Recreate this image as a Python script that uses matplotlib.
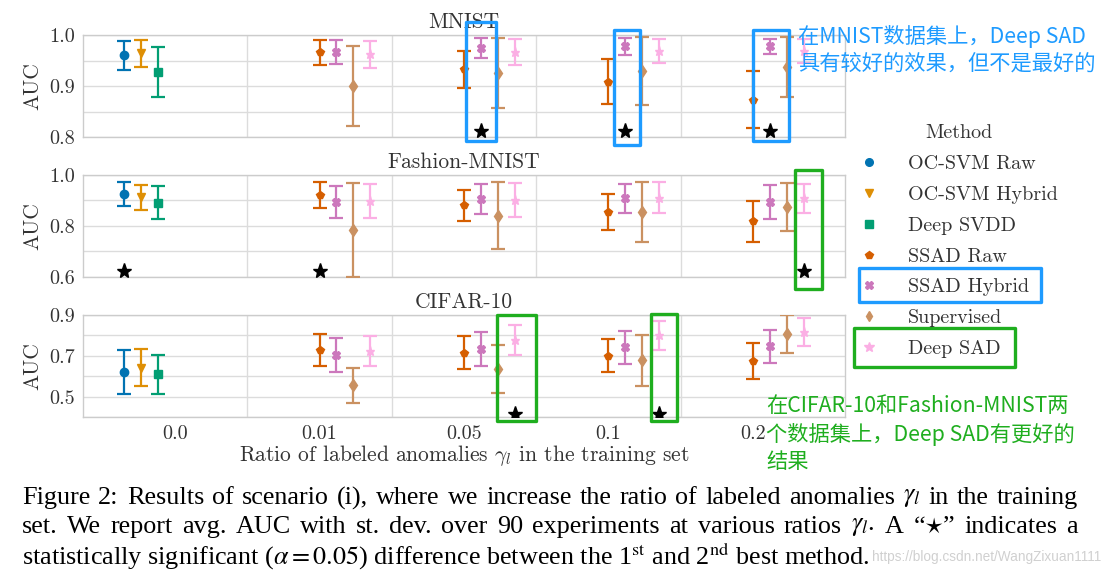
import matplotlib
matplotlib.use("Agg")
import matplotlib.pyplot as plt
import numpy as np
from matplotlib.lines import Line2D
from matplotlib.patches import Rectangle
from matplotlib.ticker import FormatStrFormatter, MultipleLocator

plt.rcParams["font.family"] = "serif"
plt.rcParams["font.serif"] = ["cmr10"]
plt.rcParams["mathtext.fontset"] = "cm"
plt.rcParams["axes.formatter.use_mathtext"] = True

nan = np.nan

ratios = ["0.0", "0.01", "0.05", "0.1", "0.2"]
methods = ["OC-SVM Raw", "OC-SVM Hybrid", "Deep SVDD", "SSAD Raw",
           "SSAD Hybrid", "Supervised", "Deep SAD"]
colors = ["#0173b2", "#de8f05", "#029e73", "#d55e00", "#cc78bc", "#ca9161", "#fbafe4"]
markers = ["o", "v", "s", "p", "X", "d", "*"]

# rows = methods, columns = ratios
mnist_mean = [
    [0.960, nan, nan, nan, nan],
    [0.964, nan, nan, nan, nan],
    [0.928, nan, nan, nan, nan],
    [nan, 0.966, 0.933, 0.908, 0.873],
    [nan, 0.967, 0.974, 0.978, 0.978],
    [nan, 0.900, 0.925, 0.930, 0.938],
    [nan, 0.962, 0.967, 0.969, 0.969],
]
mnist_std = [
    [0.029, nan, nan, nan, nan],
    [0.026, nan, nan, nan, nan],
    [0.049, nan, nan, nan, nan],
    [nan, 0.024, 0.036, 0.044, 0.056],
    [nan, 0.024, 0.020, 0.017, 0.015],
    [nan, 0.079, 0.069, 0.067, 0.059],
    [nan, 0.027, 0.025, 0.023, 0.023],
]
fashion_mean = [
    [0.927, nan, nan, nan, nan],
    [0.912, nan, nan, nan, nan],
    [0.891, nan, nan, nan, nan],
    [nan, 0.922, 0.881, 0.855, 0.818],
    [nan, 0.893, 0.905, 0.908, 0.894],
    [nan, 0.784, 0.841, 0.854, 0.875],
    [nan, 0.898, 0.902, 0.911, 0.908],
]
fashion_std = [
    [0.047, nan, nan, nan, nan],
    [0.049, nan, nan, nan, nan],
    [0.064, nan, nan, nan, nan],
    [nan, 0.052, 0.061, 0.071, 0.080],
    [nan, 0.062, 0.058, 0.057, 0.067],
    [nan, 0.184, 0.130, 0.117, 0.095],
    [nan, 0.065, 0.066, 0.061, 0.056],
]
cifar_mean = [
    [0.620, nan, nan, nan, nan],
    [0.641, nan, nan, nan, nan],
    [0.609, nan, nan, nan, nan],
    [nan, 0.729, 0.714, 0.701, 0.675],
    [nan, 0.704, 0.733, 0.743, 0.746],
    [nan, 0.555, 0.635, 0.677, 0.806],
    [nan, 0.722, 0.777, 0.800, 0.816],
]
cifar_std = [
    [0.106, nan, nan, nan, nan],
    [0.090, nan, nan, nan, nan],
    [0.094, nan, nan, nan, nan],
    [nan, 0.080, 0.081, 0.081, 0.088],
    [nan, 0.083, 0.084, 0.081, 0.080],
    [nan, 0.087, 0.116, 0.126, 0.094],
    [nan, 0.074, 0.074, 0.071, 0.069],
]

# significance stars: (ratio index, method index)
mnist_stars = [(2, 4), (3, 4), (4, 4)]
fashion_stars = [(0, 0), (1, 3), (4, 6)]
cifar_stars = [(2, 6), (3, 6)]
star_levels = [0.812, 0.625, 0.416]

titles = ["MNIST", "Fashion-MNIST", "CIFAR-10"]
ylims = [(0.8, 1.0), (0.6, 1.0), (0.4, 0.9)]
ymajor = [0.1, 0.2, 0.2]
ystart = [0.8, 0.6, 0.5]

BLUE = "#1e9bff"
GREEN = "#1fae1f"
TXT = "#333333"

fig = plt.figure(figsize=(11.02, 5.74), dpi=100)
W, H = 1102, 574


def px_axes(left, top, right, bottom):
    return [left / W, 1 - bottom / H, (right - left) / W, (bottom - top) / H]


axes = [
    fig.add_axes(px_axes(83, 35, 845, 137)),
    fig.add_axes(px_axes(83, 175, 845, 277)),
    fig.add_axes(px_axes(83, 315, 845, 417)),
]

step = 0.7 / 6
offsets = (np.arange(7) - 3) * step
xpos = np.arange(len(ratios))

panels = [
    (mnist_mean, mnist_std, mnist_stars),
    (fashion_mean, fashion_std, fashion_stars),
    (cifar_mean, cifar_std, cifar_stars),
]

for i, (ax, (means, stds, stars)) in enumerate(zip(axes, panels)):
    means = np.array(means)
    stds = np.array(stds)
    for k in range(len(methods)):
        ok = ~np.isnan(means[k])
        ax.errorbar(xpos[ok] + offsets[k], means[k][ok], yerr=stds[k][ok],
                    fmt=markers[k], color=colors[k], ms=6.5 if markers[k] == "*" else 6,
                    capsize=5, elinewidth=1.6, capthick=1.6, linestyle="none", zorder=3)
    for r, m in stars:
        ax.plot(xpos[r] + offsets[m], star_levels[i], marker="*", color="black",
                ms=11, linestyle="none", zorder=4)

    ax.set_xlim(-0.637, 4.637)
    ax.set_ylim(*ylims[i])
    ax.set_xticks(xpos)
    ax.set_xticks(xpos[:-1] + 0.5, minor=True)
    ax.yaxis.set_minor_locator(MultipleLocator(ymajor[i] / 2))
    ax.set_yticks(np.arange(ystart[i], ylims[i][1] + 1e-6, ymajor[i]))
    ax.yaxis.set_major_formatter(FormatStrFormatter("%.1f"))
    ax.grid(True, which="both", color="#dcdcdc", lw=1.0)
    ax.grid(False, which="major", axis="x")
    ax.tick_params(which="both", length=0, labelsize=14.5, colors=TXT, pad=6)
    for s in ax.spines.values():
        s.set_color("#cccccc")
        s.set_linewidth(1.0)
    ax.set_axisbelow(True)
    ax.set_ylabel("AUC", fontsize=15.5, color=TXT, labelpad=5)
    ax.set_title(titles[i], fontsize=15.5, color=TXT, pad=5)
    if i < 2:
        ax.set_xticklabels([])
    else:
        ax.set_xticklabels(ratios)
        ax.set_xlabel(r"Ratio of labeled anomalies $\gamma_l$ in the training set",
                      fontsize=15.5, color=TXT, labelpad=0)

# legend
handles = [Line2D([], [], marker=markers[k], color=colors[k], linestyle="none",
                  ms=5.5 if markers[k] != "*" else 7) for k in range(len(methods))]
leg = fig.legend(handles, methods, title="Method", loc="upper left",
                 bbox_to_anchor=(859 / W, 1 - 124.5 / H), frameon=False,
                 fontsize=14.5, title_fontsize=14.5, handlelength=1.0,
                 handletextpad=1.45, labelspacing=0.63, borderpad=0, borderaxespad=0)
for t in leg.get_texts():
    t.set_color(TXT)
leg.get_title().set_color(TXT)

# highlight boxes on data (panel, x centre, width, y bottom, y top, colour)
boxes = [
    (0, 2.118, 0.208, 0.792, 1.0255, BLUE),
    (0, 3.128, 0.180, 0.784, 1.0098, BLUE),
    (0, 4.125, 0.250, 0.792, 1.0098, BLUE),
    (1, 4.384, 0.187, 0.553, 1.0196, GREEN),
    (2, 2.363, 0.270, 0.381, 0.900, GREEN),
    (2, 3.384, 0.180, 0.381, 0.905, GREEN),
]
for p, xc, w, y0, y1, c in boxes:
    axes[p].add_patch(Rectangle((xc - w / 2, y0), w, y1 - y0, fill=False,
                                edgecolor=c, lw=2.4, clip_on=False, zorder=6,
                                joinstyle="round"))

# highlight boxes on legend (pixels: left, top, right, bottom)
for l, t, r, b, c in [(859, 268, 1041, 302, BLUE), (854, 328, 1015, 367, GREEN)]:
    fig.add_artist(Rectangle((l / W, 1 - b / H), (r - l) / W, (b - t) / H,
                             transform=fig.transFigure, fill=False, edgecolor=c,
                             lw=2.4, joinstyle="round"))

cjk = ["Noto Sans CJK SC", "DejaVu Sans"]
notes = [
    (798, 36, "在MNIST数据集上，Deep SAD", BLUE),
    (798, 64, "具有较好的效果，但不是最好的", BLUE),
    (766, 406, "在CIFAR-10和Fashion-MNIST两", GREEN),
    (766, 434, "个数据集上，Deep SAD有更好的", GREEN),
    (766, 462, "结果", GREEN),
]
for x, y, s, c in notes:
    fig.text(x / W, 1 - y / H, s, family=cjk, fontsize=15.3, color=c,
             va="center", ha="left")

# caption, first two lines justified like the LaTeX original
caption = [
    r"Figure 2: Results of scenario (i), where we increase the ratio of labeled anomalies $\gamma_l$ in the training",
    r"set.  We report avg. AUC with st. dev. over 90 experiments at various ratios $\gamma_l$.  A “$\star$” indicates a",
    r"statistically significant ($\alpha = 0.05$) difference between the 1$^{\mathrm{st}}$ and 2$^{\mathrm{nd}}$ best method.",
]
fig.text(1101 / W, 1 - 557 / H, "https://blog.csdn.net/WangZixuan1111", family="Liberation Sans",
         fontsize=9.8, color="#d0d0d0", ha="right", va="center", zorder=1)

renderer = fig.canvas.get_renderer()
cap_kw = dict(family="Liberation Serif", math_fontfamily="stix", fontsize=18.8,
              color="black", va="center", ha="left", zorder=2)
x_left, x_right = 22, 1078
for j, line in enumerate(caption):
    y = 1 - (498 + 29 * j) / H
    if j == len(caption) - 1:
        fig.text(x_left / W, y, line, **cap_kw)
        continue
    words = line.split()
    texts = [fig.text(0, y, w_, **cap_kw) for w_ in words]
    widths = [t.get_window_extent(renderer).width for t in texts]
    gap = (x_right - x_left - sum(widths)) / (len(words) - 1)
    x = x_left
    for t, wd in zip(texts, widths):
        t.set_x(x / W)
        x += wd + gap

fig.savefig("out.png", dpi=100)
